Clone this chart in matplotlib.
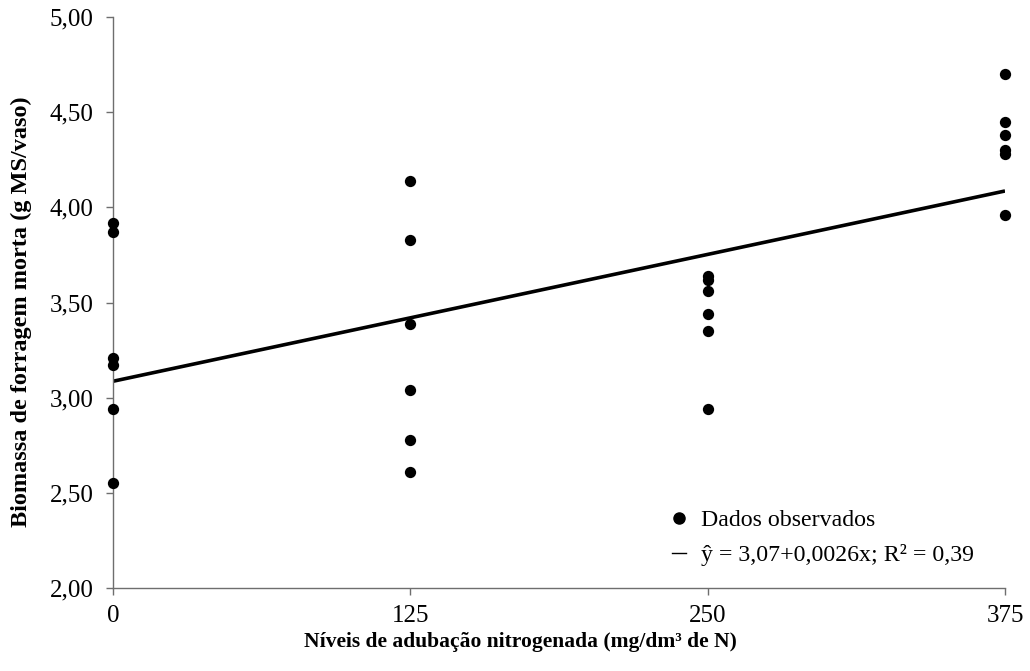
import numpy as np
import matplotlib
matplotlib.use("Agg")
import matplotlib.pyplot as plt
from matplotlib.lines import Line2D

# data
levels = [0, 125, 250, 375]
obs_0 = [3.92, 3.87, 3.21, 3.17, 2.94, 2.55]
obs_125 = [4.14, 3.83, 3.385, 3.04, 2.78, 2.61]
obs_250 = [3.64, 3.62, 3.56, 3.44, 3.35, 2.94]
obs_375 = [4.70, 4.45, 4.38, 4.30, 4.28, 3.96]
y_ticks = [2.0, 2.5, 3.0, 3.5, 4.0, 4.5, 5.0]
y_ticklabels = ["2,00", "2,50", "3,00", "3,50", "4,00", "4,50", "5,00"]
x_ticklabels = ["0", "125", "250", "375"]
legend_points = "Dados observados"
legend_line = "ŷ = 3,07+0,0026x; R² = 0,39"
xlabel = "Níveis de adubação nitrogenada (mg/dm³ de N)"
ylabel = "Biomassa de forragem morta (g MS/vaso)"

plt.rcParams['font.family'] = ['Liberation Serif', 'DejaVu Serif']

fig = plt.figure(figsize=(10.30, 6.71), dpi=100)
ax = fig.add_axes([113/1030, 1-588/671, (1005-113)/1030, (588-17)/671])

groups = [obs_0, obs_125, obs_250, obs_375]
xs = np.concatenate([[lv]*len(g) for lv, g in zip(levels, groups)])
ys = np.concatenate(groups)
ax.scatter(xs, ys, s=66, color='black', zorder=3, clip_on=False, linewidths=0)

coef = np.polyfit(xs, ys, 1)
fx = np.array([levels[0], levels[-1]])
ax.plot(fx, np.polyval(coef, fx), color='black', lw=2.6, zorder=2, solid_capstyle='butt')

ax.set_xlim(0, 375)
ax.set_ylim(2.0, 5.0)
ax.set_xticks(levels)
ax.set_xticklabels(x_ticklabels)
ax.set_yticks(y_ticks)
ax.set_yticklabels(y_ticklabels)
for s in ['top', 'right']:
    ax.spines[s].set_visible(False)
for s in ['left', 'bottom']:
    ax.spines[s].set_color('#6e6e6e')
    ax.spines[s].set_linewidth(1.0)
ax.tick_params(axis='both', direction='out', length=5, width=1.0, color='#6e6e6e',
               labelsize=18)
ax.tick_params(axis='y', pad=9)
ax.tick_params(axis='x', pad=7)

ax.set_xlabel(xlabel, fontsize=15.5, fontweight='bold')
ax.xaxis.set_label_coords(0.457, -0.077)
ax.set_ylabel(ylabel, fontsize=17.5, fontweight='bold')
ax.yaxis.set_label_coords(-0.091, 0.484)

handles = [Line2D([], [], marker='o', color='black', linestyle='None', markersize=8),
           Line2D([], [], color='black', lw=1.0)]
ax.legend(handles, [legend_points, legend_line], loc='lower right',
          bbox_to_anchor=(0.989, 0.0), frameon=False, fontsize=17.2,
          handlelength=0.6, handletextpad=0.6, labelspacing=0.55)

fig.savefig("out.png", dpi=100)
